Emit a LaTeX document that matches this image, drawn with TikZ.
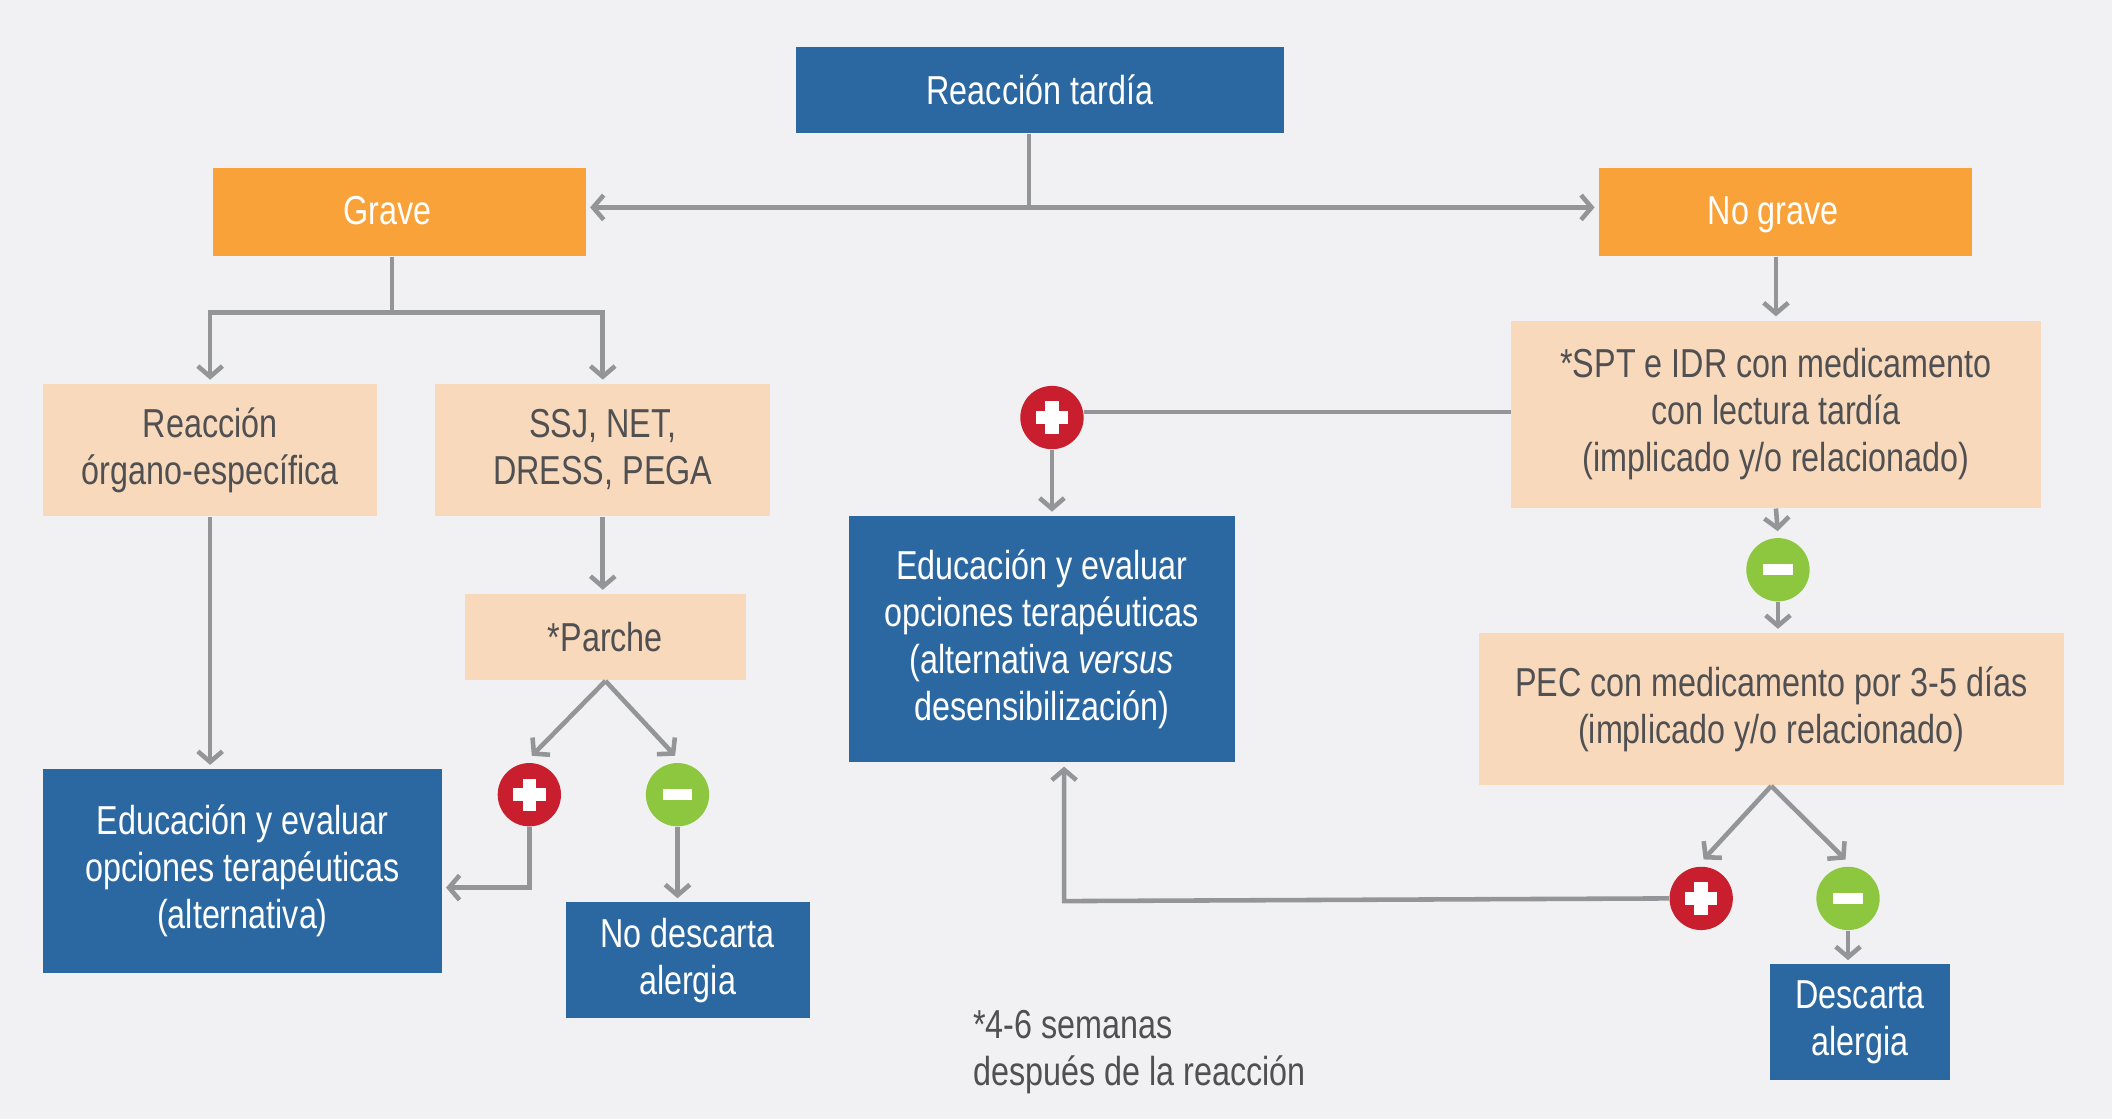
\documentclass[tikz,border=0pt]{standalone}
\usepackage{fontspec}
\setmainfont{Liberation Sans}[FakeStretch=0.80]
\usepackage{tikz}
\usetikzlibrary{arrows.meta, positioning}

\definecolor{fondo}{RGB}{241,241,243}
\definecolor{azul}{RGB}{43,104,162}
\definecolor{naranja}{RGB}{248,162,57}
\definecolor{durazno}{RGB}{248,217,188}
\definecolor{gris}{RGB}{147,149,152}
\definecolor{gristexto}{RGB}{80,80,82}
\definecolor{rojo}{RGB}{200,30,45}
\definecolor{verde}{RGB}{141,198,63}

\newdimen\px
\px=0.01347cm

\tikzset{
	caja/.style={inner sep=0pt, align=center, font=\fontsize{11.5}{13.4}\selectfont},
	azulbox/.style={caja, fill=azul, text=white},
	naranjabox/.style={caja, fill=naranja, text=white, text height=0.72em, text depth=0pt},
	clarobox/.style={caja, fill=durazno, text=gristexto},
	linea/.style={draw=gris, line width=1.3pt},
	flecha/.style={linea, -{Straight Barb[length=3pt,width=7pt]}, shorten >=1pt},
	mas/.style={circle, fill=rojo, minimum size=47\px, inner sep=0pt,
		path picture={
			\fill[white] ([xshift=-12\px,yshift=-5\px]path picture bounding box.center) rectangle ([xshift=12\px,yshift=5\px]path picture bounding box.center);
			\fill[white] ([xshift=-5\px,yshift=-12\px]path picture bounding box.center) rectangle ([xshift=5\px,yshift=12\px]path picture bounding box.center);
		}},
	menos/.style={circle, fill=verde, minimum size=47\px, inner sep=0pt,
		path picture={
			\fill[white] ([xshift=-11\px,yshift=-4.2\px]path picture bounding box.center) rectangle ([xshift=11\px,yshift=4.2\px]path picture bounding box.center);
		}}
}

\begin{document}
\begin{tikzpicture}[x=\px, y=-\px]

	% fondo
	\fill[fondo] (0,0) rectangle (1568,831);

	% cajas
	\node[azulbox, minimum width=362\px, minimum height=64\px] (tardia) at (772,67) {Reacción tardía};
	\node[naranjabox, minimum width=277\px, minimum height=65\px] (grave) at (296.5,157.5) {Grave\hspace*{18\px}};
	\node[naranjabox, minimum width=277\px, minimum height=65\px] (nograve) at (1325.5,157.5) {No grave\hspace*{18\px}};

	\node[clarobox, minimum width=248\px, minimum height=98\px] (organo) at (156,334) {Reacción\\órgano-específica};
	\node[clarobox, minimum width=249\px, minimum height=98\px] (ssj) at (447.5,334) {SSJ, NET,\\DRESS, PEGA};
	\node[clarobox, minimum width=209\px, minimum height=64\px] (parche) at (449.5,473) {*Parche};

	\node[azulbox, minimum width=296\px, minimum height=151\px] (eduA) at (180,646.5) {Educación y evaluar\\opciones terapéuticas\\(alternativa)};
	\node[azulbox, minimum width=181\px, minimum height=86\px] (nodesc) at (510.5,713) {No descarta\\alergia};

	\node[azulbox, minimum width=287\px, minimum height=183\px] (eduB) at (773.5,474.5) {Educación y evaluar\\opciones terapéuticas\\(alternativa \textit{versus}\\desensibilización)};

	\node[clarobox, minimum width=393\px, minimum height=139\px] (spt) at (1318.5,307.5) {*SPT e IDR con medicamento\\con lectura tardía\\(implicado y/o relacionado)};
	\node[clarobox, minimum width=434\px, minimum height=113\px] (pec) at (1315,526.5) {PEC con medicamento por 3-5 días\\(implicado y/o relacionado)};
	\node[azulbox, minimum width=134\px, minimum height=86\px] (desc) at (1381,759) {Descarta\\alergia};

	% signos
	\node[mas] (masA) at (393,590) {};
	\node[menos] (menosA) at (503,590) {};
	\node[mas] (masB) at (781,310) {};
	\node[menos] (menosB) at (1320,423) {};
	\node[mas] (masC) at (1263,667) {};
	\node[menos] (menosC) at (1372,667) {};

	% nota
	\node[caja, text=gristexto, align=left, anchor=west] (nota) at (722,781) {*4-6 semanas\\después de la reacción};

	% conexiones
	\coordinate (tsplit) at (764,154);
	\draw[linea] (tsplit |- tardia.south) -- (tsplit);
	\draw[flecha] (tsplit) -- (tsplit -| grave.east);
	\draw[flecha] (tsplit) -- (tsplit -| nograve.west);

	\coordinate (gsplit) at (291,232);
	\draw[linea] (gsplit |- grave.south) -- (gsplit);
	\draw[flecha] (gsplit) -| (organo.north);
	\draw[flecha] (gsplit) -| (ssj.north);

	\draw[flecha] (ssj.south) -- (ssj.south |- parche.north);
	\draw[flecha] (parche.south) -- ([yshift=3\px]masA.north);
	\draw[flecha] (parche.south) -- ([yshift=3\px]menosA.north);

	\coordinate (codoA) at (393,659);
	\draw[flecha] (masA.south) -- (codoA) -- (codoA -| eduA.east);
	\draw[flecha] (organo.south) -- (organo.south |- eduA.north);
	\draw[flecha] (menosA.south) -- (menosA.south |- nodesc.north);

	\draw[linea] ([yshift=4\px]masB.east) -- ([yshift=4\px]masB.east -| spt.west);
	\draw[flecha] (masB.south) -- (masB.south |- eduB.north);

	\draw[flecha] (spt.north |- nograve.south) -- (spt.north);
	\draw[flecha] (spt.south) -- ([yshift=2\px]menosB.north);
	\draw[flecha] (menosB.south) -- (menosB.south |- pec.north);

	\draw[flecha] (pec.south) -- ([yshift=3\px]masC.north);
	\draw[flecha] (pec.south) -- ([yshift=3\px]menosC.north);

	\coordinate (codoC) at (790,669);
	\draw[flecha] (masC.west) -- (codoC) -- (codoC |- eduB.south);
	\draw[flecha] (menosC.south) -- (menosC.south |- desc.north);

\end{tikzpicture}
\end{document}
